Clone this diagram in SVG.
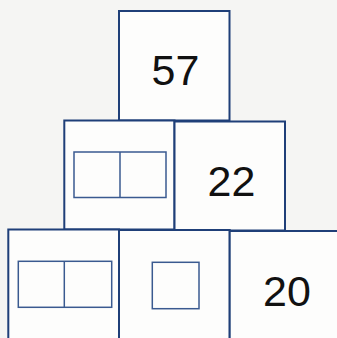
<svg xmlns="http://www.w3.org/2000/svg" width="337" height="338" viewBox="0 0 337 338">
<style>
.box{fill:#fdfdfc;stroke:#1f3f78;stroke-width:2}
.inner{fill:none;stroke:#3a5a90;stroke-width:1.5}
.num{font-family:"Liberation Sans",Arial,sans-serif;font-size:43px;fill:#111;text-anchor:middle}
</style>
<rect width="337" height="338" fill="#f5f5f3"/>
<g id="top">
<rect class="box" x="119" y="11" width="110.5" height="109.5"/>
<text class="num" x="175.5" y="85">57</text>
</g>
<g id="mid-left">
<rect class="box" x="64.3" y="120.5" width="110.2" height="109"/>
<rect class="inner" x="74" y="152" width="92" height="45.5"/>
<line class="inner" x1="120" y1="152" x2="120" y2="197.5"/>
</g>
<g id="mid-right">
<rect class="box" x="174.5" y="121.5" width="110.5" height="109"/>
<text class="num" x="231.5" y="196">22</text>
</g>
<g id="bot-left">
<rect class="box" x="8.3" y="229.5" width="110.7" height="112"/>
<rect class="inner" x="18.3" y="261.3" width="93.4" height="46"/>
<line class="inner" x1="64.3" y1="261.3" x2="64.3" y2="307.3"/>
</g>
<g id="bot-mid">
<rect class="box" x="119" y="230" width="110.7" height="112"/>
<rect class="inner" x="152.3" y="262.3" width="46.7" height="46.4"/>
</g>
<g id="bot-right">
<rect class="box" x="229.7" y="231" width="111" height="112"/>
<text class="num" x="287" y="306">20</text>
</g>
<g id="connectors"/>
</svg>
